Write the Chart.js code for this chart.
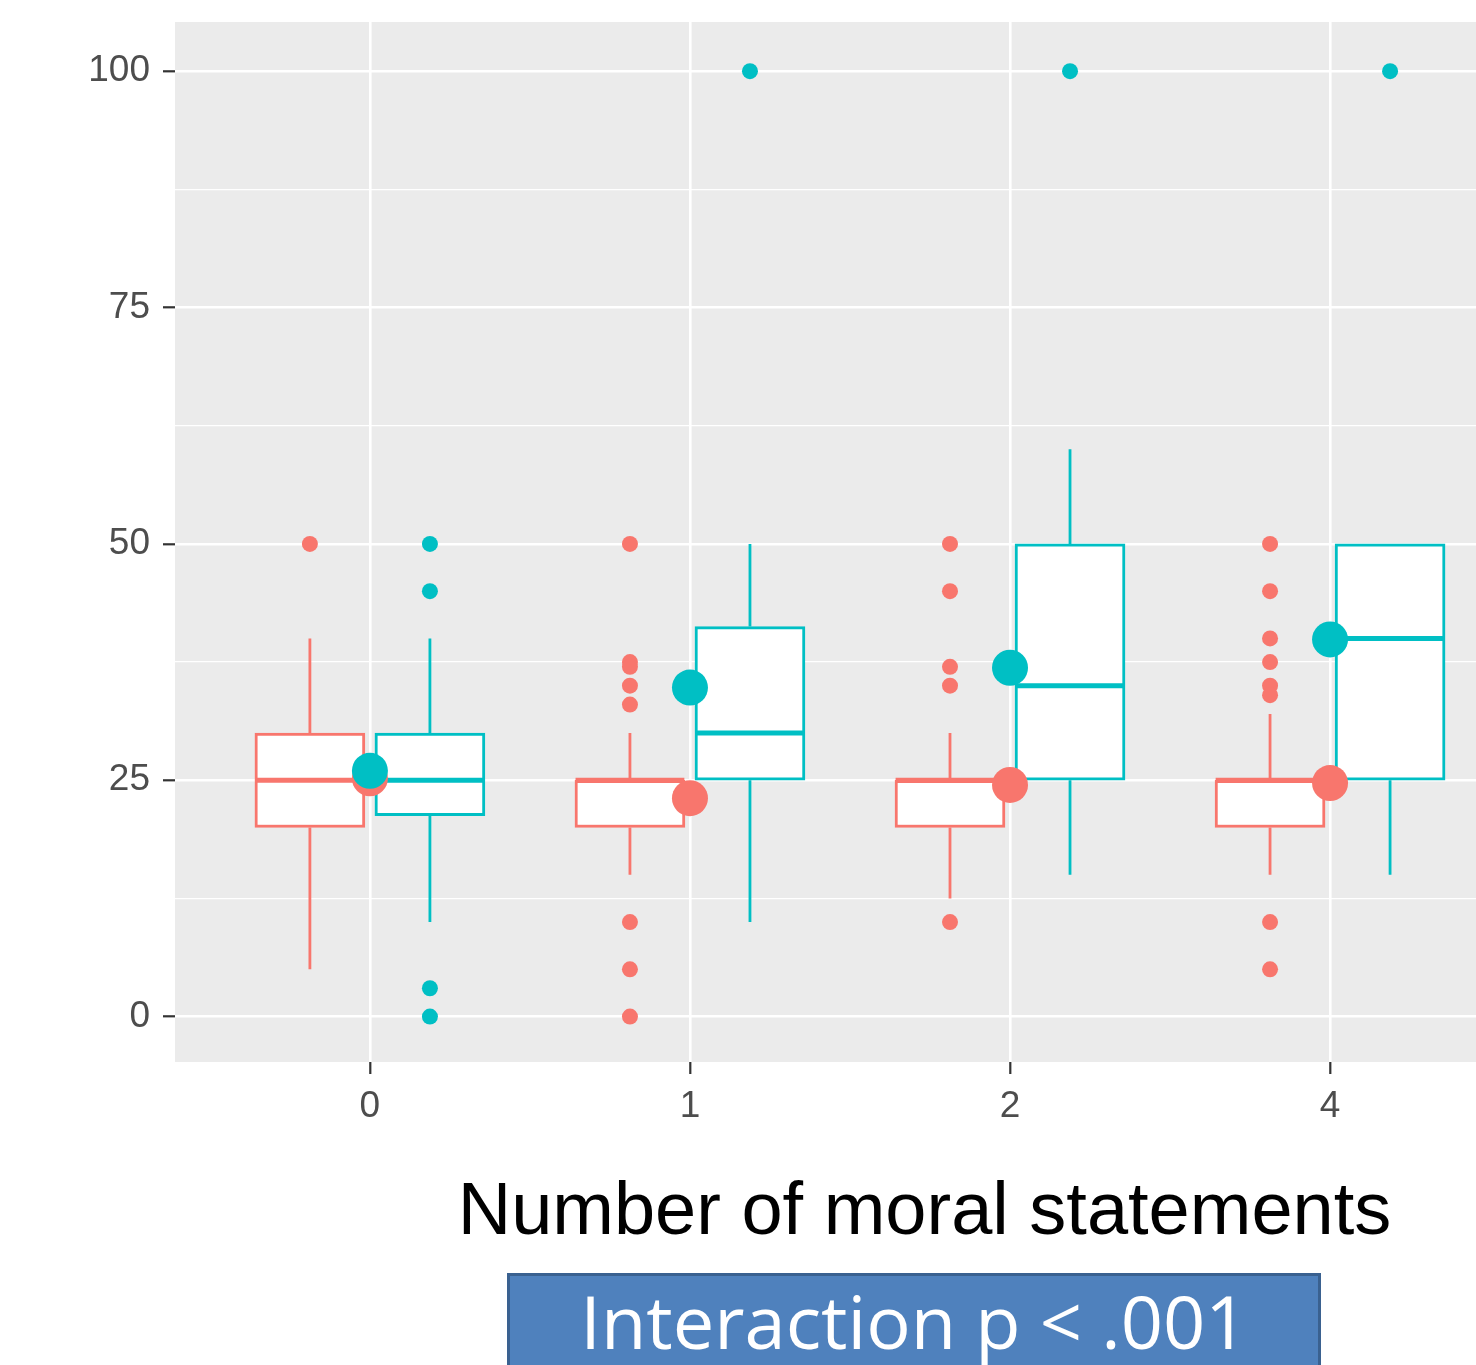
<!DOCTYPE html>
<html>
<head>
<meta charset="utf-8">
<script src="https://cdn.jsdelivr.net/npm/chart.js@4.4.1/dist/chart.umd.min.js"></script>
<style>
  body { margin: 0; background: #fff; overflow: hidden; }
  #wrap { position: relative; width: 1476px; height: 1365px; overflow: hidden; }
  #myChart { position: absolute; left: 0; top: 0; }
  #xtitle {
    position: absolute; left: 0; width: 1849px; top: 1172px;
    text-align: center; font: 74px/74px "Liberation Sans", Arial, sans-serif; color: #000;
    white-space: nowrap;
  }
  #pbox {
    position: absolute; left: 507px; top: 1273px; width: 814px; height: 110px;
    box-sizing: border-box; background: #4F81BD; border: 3px solid #3A6190;
    text-align: center; color: #fff;
  }
  #pbox div { margin-top: 8px; font: 74px/74px "Open Sans", sans-serif; white-space: nowrap; }
</style>
</head>
<body>
<div id="wrap">
  <canvas id="myChart" width="1476" height="1365"></canvas>
  <div id="xtitle">Number of moral statements</div>
  <div id="pbox"><div>Interaction p &lt; .001</div></div>
</div>
<script>
// categories on the x axis
var cats = ['0', '1', '2', '4'];
var yTicks = [0, 12.5, 25, 37.5, 50, 62.5, 75, 87.5, 100];

// red group (left boxes)
var redLow  = [5, 15, 12.5, 15];
var redQ1   = [20, 20, 20, 20];
var redMed  = [25, 25, 25, 25];
var redQ3   = [30, 25, 25, 25];
var redHigh = [40, 30, 30, 32];
var redOut  = [[50], [50, 37.5, 37, 35, 33, 10, 5, 0], [50, 45, 37, 35, 10], [50, 45, 40, 37.5, 35, 34, 10, 5]];
var redMean = [25.2, 23.1, 24.5, 24.7];

// teal group (right boxes)
var tealLow  = [10, 10, 15, 15];
var tealQ1   = [21.25, 25, 25, 25];
var tealMed  = [25, 30, 35, 40];
var tealQ3   = [30, 41.25, 50, 50];
var tealHigh = [40, 50, 60, 50];
var tealOut  = [[50, 45, 3, 0], [100], [100], [100]];
var tealMean = [26, 34.8, 36.9, 39.9];

var RED = '#F8766D';
var TEAL = '#00BFC4';
var dodge = 0.1875;
var halfBox = 0.17;
var gap = {x: null, y: null};

function boxData(q1, q3, off) {
  return cats.map(function(c, i) { return {x: i + off, y: [q1[i], q3[i]]}; });
}
function medianData(med, off) {
  var d = [];
  cats.forEach(function(c, i) {
    d.push({x: i + off - halfBox, y: med[i]}, {x: i + off + halfBox, y: med[i]}, gap);
  });
  return d;
}
function whiskerData(lo, q1, q3, hi, off) {
  var d = [];
  cats.forEach(function(c, i) {
    d.push({x: i + off, y: lo[i]}, {x: i + off, y: q1[i]}, gap);
    d.push({x: i + off, y: q3[i]}, {x: i + off, y: hi[i]}, gap);
  });
  return d;
}
function outlierData(out, off) {
  var d = [];
  out.forEach(function(vals, i) {
    vals.forEach(function(v) { d.push({x: i + off, y: v}); });
  });
  return d;
}
function meanData(mean) {
  return cats.map(function(c, i) { return {x: i, y: mean[i]}; });
}

function groupSets(color, lo, q1, med, q3, hi, out, off, base) {
  return [
    { type: 'scatter', data: whiskerData(lo, q1, q3, hi, off), showLine: true, spanGaps: false,
      borderColor: color, borderWidth: 2.8, pointRadius: 0, order: base + 3 },
    { type: 'bar', data: boxData(q1, q3, off), grouped: false, barThickness: 110,
      backgroundColor: '#fff', borderColor: color, borderWidth: 3, borderSkipped: false, order: base + 2 },
    { type: 'scatter', data: medianData(med, off), showLine: true, spanGaps: false,
      borderColor: color, borderWidth: 5, pointRadius: 0, order: base + 1 },
    { type: 'scatter', data: outlierData(out, off), pointRadius: 8, pointHoverRadius: 8,
      backgroundColor: color, borderWidth: 0, order: base }
  ];
}

var panelBg = {
  id: 'panelBg',
  beforeDraw: function(chart) {
    var a = chart.chartArea, ctx = chart.ctx;
    ctx.save();
    ctx.fillStyle = '#EBEBEB';
    ctx.fillRect(a.left, a.top, a.right - a.left, a.bottom - a.top);
    ctx.restore();
  }
};

function noPad(s) { s.paddingLeft = 0; s.paddingRight = 0; s.paddingTop = 0; s.paddingBottom = 0; }

var tickFont = {family: 'Liberation Sans', size: 37};
var isMajor = function(v) { return v % 25 === 0; };

var datasets = []
  .concat(groupSets(RED, redLow, redQ1, redMed, redQ3, redHigh, redOut, -dodge, 20))
  .concat(groupSets(TEAL, tealLow, tealQ1, tealMed, tealQ3, tealHigh, tealOut, dodge, 10))
  .concat([
    { type: 'scatter', data: meanData(redMean), pointRadius: 18, pointHoverRadius: 18,
      backgroundColor: RED, borderWidth: 0, order: 2 },
    { type: 'scatter', data: meanData(tealMean), pointRadius: 18, pointHoverRadius: 18,
      backgroundColor: TEAL, borderWidth: 0, order: 1 }
  ]);

var ctx = document.getElementById('myChart');
var myChart = new Chart(ctx, {
  type: 'scatter',
  data: { datasets: datasets },
  plugins: [panelBg],
  options: {
    responsive: false,
    animation: false,
    events: [],
    layout: { autoPadding: false, padding: { top: 22, left: 0, right: 0, bottom: 0 } },
    plugins: { legend: { display: false }, tooltip: { enabled: false } },
    scales: {
      x: {
        type: 'linear', min: -0.609, max: 3.456, offset: false,
        afterBuildTicks: function(s) { s.ticks = cats.map(function(c, i) { return {value: i}; }); },
        afterFit: function(s) { s.height = 303; noPad(s); },
        ticks: { callback: function(v) { return cats[v]; }, font: tickFont, color: '#4D4D4D', padding: 11, maxRotation: 0 },
        grid: { offset: false, color: '#FFFFFF', lineWidth: 2.6, tickColor: '#333333', tickLength: 12, tickWidth: 2.2 },
        border: { display: false }
      },
      y: {
        type: 'linear', min: -4.8, max: 105.2, offset: false,
        afterBuildTicks: function(s) { s.ticks = yTicks.map(function(v) { return {value: v}; }); },
        afterFit: function(s) { s.width = 175; noPad(s); },
        ticks: { callback: function(v) { return isMajor(v) ? String(v) : ''; }, font: tickFont, color: '#4D4D4D', padding: 13 },
        grid: {
          offset: false,
          color: '#FFFFFF',
          lineWidth: function(c) { return isMajor(c.tick.value) ? 2.6 : 1.3; },
          tickColor: function(c) { return isMajor(c.tick.value) ? '#333333' : 'rgba(0,0,0,0)'; },
          tickLength: 12, tickWidth: 2.2
        },
        border: { display: false }
      }
    }
  }
});
</script>
</body>
</html>
